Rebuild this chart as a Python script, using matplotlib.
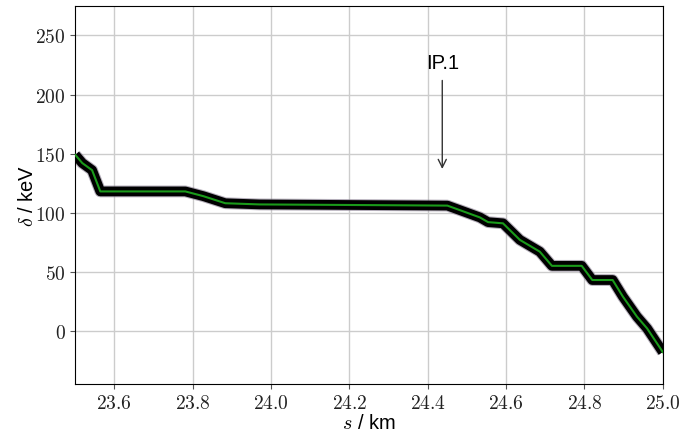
import numpy as np
import matplotlib
matplotlib.use("Agg")
import matplotlib.pyplot as plt
from matplotlib.ticker import FuncFormatter

plt.rcParams['font.family'] = ['Liberation Sans', 'DejaVu Sans']
plt.rcParams['mathtext.fontset'] = 'cm'

# beam energy deviation along the section
s_km = [23.50, 23.518, 23.543, 23.564, 23.781, 23.827, 23.883, 23.97, 24.45,
        24.475, 24.533, 24.554, 24.592, 24.635, 24.686, 24.717, 24.793,
        24.82, 24.872, 24.898, 24.934, 24.96, 25.0]
delta_kev = [149, 142, 136, 118, 118, 114, 108, 107, 106,
             103, 96, 92, 91, 77, 67, 55, 55,
             43, 43, 29, 12, 2, -18]

ip_s = 24.437
ip_text_y = 219
ip_arrow_y = 137

fig = plt.figure(figsize=(6.84, 4.35), dpi=100)
ax = fig.add_axes([0.110, 0.115, 0.859, 0.869])

ax.plot(s_km, delta_kev, color='#857a8e', lw=8.5, solid_capstyle='butt', alpha=0.6, zorder=2)
ax.plot(s_km, delta_kev, color='black', lw=7, solid_capstyle='butt', zorder=3)
ax.plot(s_km, delta_kev, color='#1a9a1a', lw=1.5, zorder=4)

ax.annotate('IP.1', xy=(ip_s, ip_arrow_y), xytext=(ip_s, ip_text_y),
            ha='center', va='bottom', fontsize=14.5,
            arrowprops=dict(arrowstyle='->', color='#333333', lw=1, shrinkA=4, shrinkB=0))

ax.set_xlim(23.5, 25.0)
ax.set_ylim(-45, 275)
ax.set_xticks(np.arange(23.6, 25.01, 0.2))
ax.set_yticks(np.arange(0, 251, 50))
ax.xaxis.set_major_formatter(FuncFormatter(lambda v, p: '$%.1f$' % v))
ax.yaxis.set_major_formatter(FuncFormatter(lambda v, p: '$%d$' % v))
ax.tick_params(labelsize=14, color='#555555', labelcolor='#222222')
ax.grid(True, color='#cccccc', lw=1)
ax.set_axisbelow(True)

ax.set_xlabel('$s$ / km', fontsize=14.5, labelpad=1)
ax.set_ylabel(r'$\delta$ / keV', fontsize=14.5, labelpad=-1)

fig.savefig('out.png', dpi=100)
